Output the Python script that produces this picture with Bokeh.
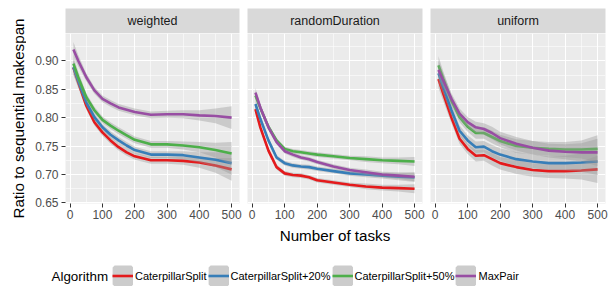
import math
from bokeh.plotting import figure
from bokeh.layouts import row, column
from bokeh.models import Range1d, FixedTicker, NumeralTickFormatter, Legend, LegendItem, Label
from bokeh.core.properties import value
from bokeh.embed import file_html
from bokeh.resources import INLINE

# ---------------- data ----------------
tasks = [10, 25, 50, 75, 100, 125, 150, 175, 200, 250, 300, 350, 400, 450, 500]
algorithms = ["CaterpillarSplit", "CaterpillarSplit+20%", "CaterpillarSplit+50%", "MaxPair"]
colors = ["#E41A1C", "#377EB8", "#4DAF4A", "#984EA3"]
panels = ["weighted", "randomDuration", "uniform"]

weighted_cs = [0.888, 0.862, 0.821, 0.792, 0.774, 0.760, 0.748, 0.739, 0.732, 0.725, 0.725, 0.724, 0.721, 0.716, 0.709]
weighted_cs20 = [0.889, 0.865, 0.827, 0.801, 0.783, 0.770, 0.760, 0.751, 0.743, 0.735, 0.735, 0.734, 0.730, 0.726, 0.720]
weighted_cs50 = [0.895, 0.871, 0.836, 0.813, 0.796, 0.786, 0.777, 0.769, 0.761, 0.753, 0.753, 0.751, 0.748, 0.743, 0.737]
weighted_mp = [0.920, 0.900, 0.871, 0.848, 0.833, 0.825, 0.818, 0.814, 0.810, 0.805, 0.806, 0.806, 0.804, 0.803, 0.800]
weighted_se = [0.013, 0.010, 0.007, 0.006, 0.006, 0.006, 0.006, 0.006, 0.006, 0.006, 0.006, 0.007, 0.009, 0.013, 0.020]

random_cs = [0.815, 0.783, 0.742, 0.713, 0.702, 0.699, 0.698, 0.695, 0.690, 0.686, 0.682, 0.679, 0.677, 0.676, 0.675]
random_cs20 = [0.824, 0.798, 0.760, 0.730, 0.720, 0.716, 0.714, 0.713, 0.710, 0.706, 0.702, 0.700, 0.698, 0.696, 0.695]
random_cs50 = [0.839, 0.817, 0.784, 0.760, 0.745, 0.741, 0.739, 0.737, 0.735, 0.732, 0.729, 0.727, 0.725, 0.724, 0.723]
random_mp = [0.844, 0.818, 0.783, 0.757, 0.741, 0.735, 0.730, 0.727, 0.722, 0.714, 0.708, 0.704, 0.700, 0.698, 0.696]
random_se = [0.008, 0.006, 0.005, 0.004, 0.004, 0.004, 0.004, 0.004, 0.004, 0.004, 0.004, 0.005, 0.005, 0.006, 0.008]

uniform_cs = [0.868, 0.842, 0.800, 0.763, 0.745, 0.733, 0.734, 0.727, 0.720, 0.713, 0.708, 0.706, 0.706, 0.707, 0.709]
uniform_cs20 = [0.878, 0.854, 0.813, 0.777, 0.760, 0.748, 0.749, 0.741, 0.735, 0.727, 0.723, 0.720, 0.720, 0.721, 0.723]
uniform_cs50 = [0.892, 0.868, 0.830, 0.801, 0.784, 0.773, 0.773, 0.766, 0.759, 0.750, 0.747, 0.745, 0.744, 0.744, 0.745]
uniform_mp = [0.884, 0.865, 0.833, 0.807, 0.792, 0.783, 0.780, 0.773, 0.764, 0.754, 0.747, 0.742, 0.740, 0.739, 0.739]
uniform_se = [0.016, 0.013, 0.010, 0.009, 0.009, 0.010, 0.010, 0.011, 0.011, 0.012, 0.012, 0.012, 0.013, 0.016, 0.024]

x_ticks = [0, 100, 200, 300, 400, 500]
x_minor = [50, 150, 250, 350, 450]
y_ticks = [0.65, 0.70, 0.75, 0.80, 0.85, 0.90]
y_minor = [0.675, 0.725, 0.775, 0.825, 0.875, 0.925]

panel_series = {
    "weighted": ([weighted_cs, weighted_cs20, weighted_cs50, weighted_mp], weighted_se),
    "randomDuration": ([random_cs, random_cs20, random_cs50, random_mp], random_se),
    "uniform": ([uniform_cs, uniform_cs20, uniform_cs50, uniform_mp], uniform_se),
}

FONT = "Liberation Sans"
x_range = Range1d(-14.5, 524.5)
y_range = Range1d(0.649, 0.948)

# y-axis title column (spans strip + panel height)
title_fig = figure(width=26, height=249, x_range=Range1d(0, 1), y_range=Range1d(0, 1),
                   output_backend="svg", toolbar_location=None,
                   x_axis_location=None, y_axis_location=None, min_border=0)
title_fig.outline_line_color = None
title_fig.grid.visible = False
title_fig.add_layout(Label(x=18, y=131, x_units="screen", y_units="screen",
                           text="Ratio to sequential makespan", angle=math.pi / 2,
                           text_align="center", text_baseline="middle",
                           text_font=FONT, text_font_size="15.2px", text_color="black"))

cols = [title_fig]
for i, name in enumerate(panels):
    left = 39 if i == 0 else 4
    right = 4
    fw = 174 if i == 0 else 175
    w = left + fw + right

    # strip header
    s = figure(width=w, height=33, x_range=Range1d(0, 1), y_range=Range1d(0, 1),
               output_backend="svg", toolbar_location=None,
               x_axis_location=None, y_axis_location=None,
               min_border_left=left, min_border_right=right,
               min_border_top=8, min_border_bottom=0)
    s.background_fill_color = "#D9D9D9"
    s.border_fill_color = "white"
    s.outline_line_color = None
    s.grid.visible = False
    s.text(x=[0.5], y=[0.5], text=[name], text_align="center", text_baseline="middle",
           text_font=value(FONT), text_font_size="12.5px", text_color="#1A1A1A")

    p = figure(width=w, height=216, x_range=x_range, y_range=y_range,
               output_backend="svg", toolbar_location=None,
               min_border_left=left, min_border_right=right,
               min_border_top=0, min_border_bottom=46)
    p.background_fill_color = "#EBEBEB"
    p.border_fill_color = "white"
    p.outline_line_color = None

    xt = FixedTicker(ticks=x_ticks, minor_ticks=x_minor)
    yt = FixedTicker(ticks=y_ticks, minor_ticks=y_minor)
    p.xaxis.ticker = xt
    p.yaxis.ticker = yt
    p.xgrid.ticker = xt
    p.ygrid.ticker = yt
    for g in (p.xgrid, p.ygrid):
        g.grid_line_color = "white"
        g.grid_line_width = 1.1
        g.minor_grid_line_color = "white"
        g.minor_grid_line_width = 0.55

    for ax in (p.xaxis, p.yaxis):
        ax.axis_line_color = None
        ax.major_tick_line_color = "#333333"
        ax.major_tick_out = 4
        ax.major_tick_in = 0
        ax.minor_tick_out = 0
        ax.minor_tick_in = 0
        ax.major_label_text_color = "#4D4D4D"
        ax.major_label_text_font = FONT
        ax.major_label_text_font_size = "12px"
        ax.axis_label_text_font = FONT
        ax.axis_label_text_font_size = "15.2px"
        ax.axis_label_text_font_style = "normal"
        ax.axis_label_text_color = "black"
    p.xaxis.major_label_standoff = 2
    p.yaxis.major_label_standoff = 3
    p.yaxis.formatter = NumeralTickFormatter(format="0.00")

    if i != 0:
        p.yaxis.visible = False
    if i == 1:
        p.xaxis.axis_label = "Number of tasks"
        p.xaxis.axis_label_standoff = 5

    series, se = panel_series[name]
    for vals, c in zip(series, colors):
        lower = [v - e for v, e in zip(vals, se)]
        upper = [v + e for v, e in zip(vals, se)]
        p.varea(x=tasks, y1=lower, y2=upper, fill_color="#999999", fill_alpha=0.4)
        p.line(x=tasks, y=vals, line_color=c, line_width=2.6)

    cols.append(column(s, p, spacing=0))

panels_row = row(*cols, spacing=0)

# ---------------- legend ----------------
nan = float("nan")
leg = figure(width=609, height=37, x_range=Range1d(0, 1), y_range=Range1d(0, 1),
             output_backend="svg", toolbar_location=None,
             x_axis_location=None, y_axis_location=None, min_border=0)
leg.outline_line_color = None
leg.grid.visible = False
leg.background_fill_color = "white"
leg.border_fill_color = "white"
items = []
for alg, c in zip(algorithms, colors):
    bg = leg.quad(left=[nan], right=[nan], top=[nan], bottom=[nan], fill_color="#CCCCCC",
                  line_color="#CCCCCC", line_width=4)
    ln = leg.line(x=[nan], y=[nan], line_color=c, line_width=2.6)
    items.append(LegendItem(label=alg, renderers=[bg, ln]))
legend = Legend(items=items, orientation="horizontal", location=(112, 0),
                padding=0, margin=0, spacing=1, label_standoff=2,
                glyph_width=21, glyph_height=21, label_height=21,
                border_line_color=None, background_fill_alpha=0,
                label_text_font=FONT, label_text_font_size="11px",
                label_text_color="black")
leg.add_layout(legend)
leg.add_layout(Label(x=51, y=10.5, x_units="screen", y_units="screen", text="Algorithm",
                     text_baseline="middle", text_font=FONT, text_font_size="13.4px",
                     text_color="black"))

layout = column(panels_row, leg, spacing=0)

open("out.html", "w").write(file_html(layout, INLINE))
